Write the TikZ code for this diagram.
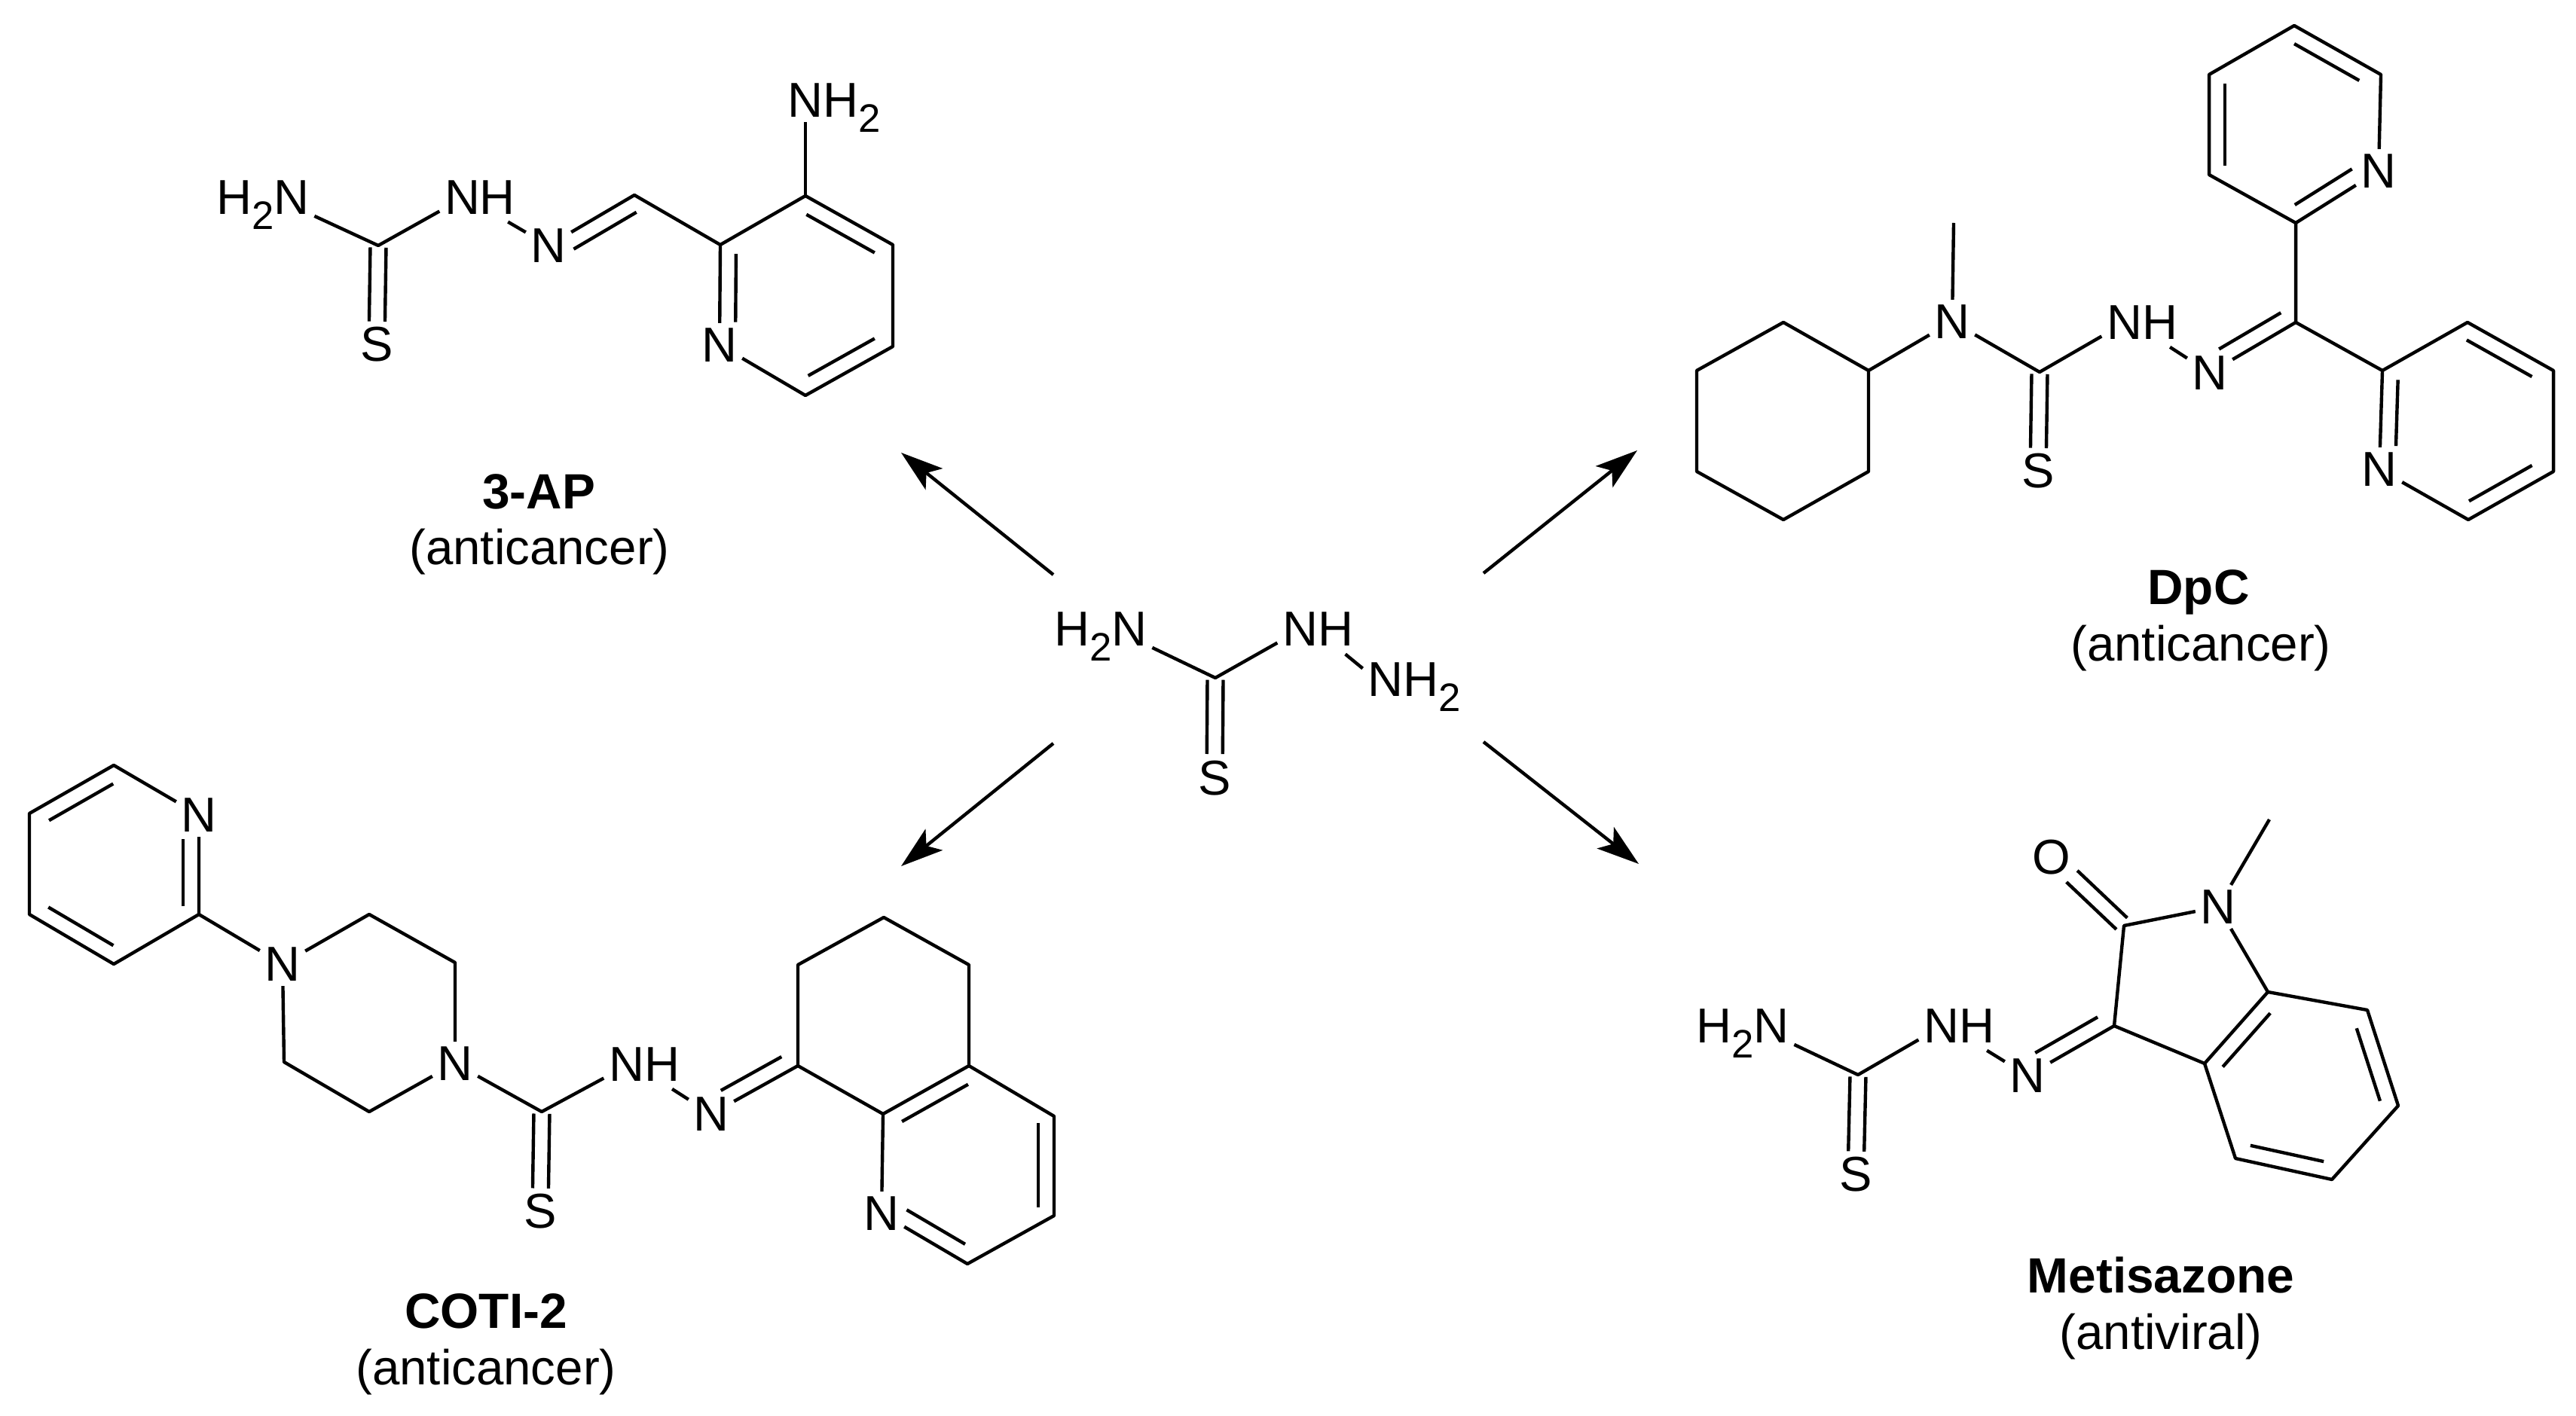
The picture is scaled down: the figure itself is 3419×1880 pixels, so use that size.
\documentclass[tikz,border=0pt]{standalone}
\usepackage{fontspec}
\setmainfont{Liberation Sans}
\usetikzlibrary{calc,arrows.meta}
\newcommand{\subb}{\raisebox{-5.8pt}[0pt][0pt]{\fontsize{15}{15}\selectfont 2}}
% inner line of a double bond, left / right of a->b, between fractions f1 and f2
\newcommand{\ibl}[4]{\draw[bond] ($(#1)!#3!(#2)!\dbloff!90:(#2)$) -- ($(#1)!#4!(#2)!\dbloff!90:(#2)$);}
\newcommand{\ibr}[4]{\draw[bond] ($(#1)!#3!(#2)!\dbloff!-90:(#2)$) -- ($(#1)!#4!(#2)!\dbloff!-90:(#2)$);}
\newcommand{\dbloff}{0.21cm}
\newcommand{\csdbl}[4]{\begingroup\renewcommand{\dbloff}{0.105cm}\ibl{#1}{#2}{#3}{#4}\ibr{#1}{#2}{#3}{#4}\endgroup}
\tikzset{
  bond/.style={line width=0.044cm,line join=round,line cap=butt,black},
  nnbond/.style={bond,shorten <=0.07cm},
  rxn/.style={line width=0.044cm,black,-{Stealth[length=0.56cm,width=0.36cm,inset=0.13cm]}},
  atom/.style={font=\fontsize{18.5}{20}\selectfont,inner sep=0.06cm,text=black},
  drugname/.style={font=\fontsize{18.7}{20}\selectfont\bfseries,inner sep=0pt,text=black},
  activity/.style={font=\fontsize{18.6}{20}\selectfont,inner sep=0pt,text=black}
}
\begin{document}
\begin{tikzpicture}[x=0.01cm,y=-0.01cm]
\useasboundingbox[fill=white] (0,0) rectangle (3419,1880);

% ---------- centre: thiosemicarbazide
\node[atom] (zh) at (1461,835) {H\subb N};
\node[atom] (znh) at (1749,835) {NH};
\node[atom] (zn) at (1877,902) {NH\subb};
\node[atom] (zs) at (1612,1033) {S};
\coordinate (zc) at (1613,900);
\draw[bond] (zh.-20) -- (zc) -- (znh.199);
\draw[nnbond] (znh.-43) -- (zn.168);
\csdbl{zc}{zs}{0.02}{0.76}

% ---------- arrows
\coordinate (ul0) at (1398,763); \coordinate (ul1) at (1196,601);
\coordinate (ur0) at (1969,761); \coordinate (ur1) at (2173,598);
\coordinate (ll0) at (1398,987); \coordinate (ll1) at (1196,1150);
\coordinate (lr0) at (1969,985); \coordinate (lr1) at (2175,1147);
\draw[rxn] (ul0) -- (ul1);
\draw[rxn] (ur0) -- (ur1);
\draw[rxn] (ll0) -- (ll1);
\draw[rxn] (lr0) -- (lr1);

% ---------- 3-AP
\node[atom] (ah) at (349,262) {H\subb N};
\node[atom] (anh) at (637,262) {NH};
\node[atom] (as) at (500,457) {S};
\node[atom] (an) at (728,326) {N};
\node[atom] (anr) at (955,458) {N};
\node[atom] (anh2) at (1107,133) {NH\subb};
\coordinate (ac) at (502,326);
\coordinate (ach) at (842,259);
\coordinate (a2) at (956,325);
\coordinate (a3) at (1069,260);
\coordinate (a4) at (1185,325);
\coordinate (a5) at (1185,460);
\coordinate (a6) at (1069,525);
\draw[bond] (ah.-20) -- (ac) -- (anh.199);
\draw[nnbond] (anh.-43) -- (an);
\draw[bond] (an) -- (ach) -- (a2) -- (a3) -- (a4) -- (a5) -- (a6) -- (anr) -- (a2);
\draw[bond] (a3) -- (a3 |- anh2.south);
\csdbl{ac}{as}{0.02}{0.77}
\ibr{an}{ach}{0.2}{0.93}
\ibl{a2}{anr}{0.09}{0.77}
\ibr{a3}{a4}{0.1}{0.88}
\ibr{a5}{a6}{0.12}{0.88}
\node[drugname] (at) at (715,653) {3-AP};
\node[activity] (aa) at (716,733) {(anticancer)};

% ---------- DpC
\node[atom] (dn) at (2591,427) {N};
\node[atom] (dnh) at (2843,428) {NH};
\node[atom] (ds) at (2705,625) {S};
\node[atom] (dni) at (2933,495) {N};
\node[atom] (dnt) at (3157,227) {N};
\node[atom] (dnb) at (3158,623) {N};
\coordinate (dme) at (2593,296);
\coordinate (dy1) at (2480,492);
\coordinate (dy2) at (2480,626);
\coordinate (dy3) at (2367,690);
\coordinate (dy4) at (2252,626);
\coordinate (dy5) at (2252,492);
\coordinate (dy6) at (2367,428);
\coordinate (dc) at (2707,494);
\coordinate (dcc) at (3047,428);
\coordinate (dt2) at (3047,296);
\coordinate (dt3) at (3160,99);
\coordinate (dt4) at (3045,34);
\coordinate (dt5) at (2932,99);
\coordinate (dt6) at (2932,232);
\coordinate (db2) at (3162,492);
\coordinate (db3) at (3276,690);
\coordinate (db4) at (3389,626);
\coordinate (db5) at (3389,492);
\coordinate (db6) at (3275,428);
\draw[bond] (dy1) -- (dy2) -- (dy3) -- (dy4) -- (dy5) -- (dy6) -- cycle;
\draw[bond] (dy1) -- (dn) -- (dme);
\draw[bond] (dn) -- (dc) -- (dnh.199);
\draw[nnbond] (dnh.-43) -- (dni);
\draw[bond] (dni) -- (dcc) -- (dt2);
\draw[bond] (dcc) -- (db2);
\draw[bond] (dt2) -- (dnt) -- (dt3) -- (dt4) -- (dt5) -- (dt6) -- (dt2);
\draw[bond] (db2) -- (dnb) -- (db3) -- (db4) -- (db5) -- (db6) -- (db2);
\csdbl{dc}{ds}{0.02}{0.77}
\ibl{dni}{dcc}{0.2}{0.92}
\ibl{dt2}{dnt}{0.09}{0.78}
\ibr{dt4}{dt3}{0.09}{0.84}
\ibl{dt5}{dt6}{0.09}{0.91}
\ibl{db2}{dnb}{0.09}{0.76}
\ibr{db6}{db5}{0.08}{0.84}
\ibr{db4}{db3}{0.16}{0.9}
\node[drugname] (dt) at (2918,786) {DpC};
\node[activity] (da) at (2921,861) {(anticancer)};

% ---------- COTI-2
\node[atom] (kn) at (264,1082) {N};
\node[atom] (kp1) at (375,1280) {N};
\node[atom] (kp2) at (604,1412) {N};
\node[atom] (ks) at (717,1608) {S};
\node[atom] (knh) at (855,1413) {NH};
\node[atom] (kni) at (944,1479) {N};
\node[atom] (knq) at (1170,1611) {N};
\coordinate (k1) at (151,1016);
\coordinate (k2) at (264,1214);
\coordinate (k3) at (151,1280);
\coordinate (k4) at (39,1214);
\coordinate (k5) at (39,1080);
\coordinate (kq1) at (490,1214);
\coordinate (kq2) at (604,1278);
\coordinate (kq3) at (490,1476);
\coordinate (kq4) at (377,1410);
\coordinate (kc) at (719,1476);
\coordinate (k8) at (1059,1415);
\coordinate (k7) at (1059,1281);
\coordinate (k6) at (1173,1218);
\coordinate (k55) at (1286,1281);
\coordinate (k4a) at (1286,1415);
\coordinate (k8a) at (1172,1479);
\coordinate (kr1) at (1399,1482);
\coordinate (kr2) at (1399,1614);
\coordinate (kr3) at (1284,1678);
\draw[bond] (kn) -- (k1) -- (k5) -- (k4) -- (k3) -- (k2) -- (kn);
\draw[bond] (k2) -- (kp1) -- (kq1) -- (kq2) -- (kp2) -- (kq3) -- (kq4) -- (kp1);
\draw[bond] (kp2) -- (kc) -- (knh.199);
\draw[nnbond] (knh.-43) -- (kni);
\draw[bond] (kni) -- (k8) -- (k7) -- (k6) -- (k55) -- (k4a) -- (k8a) -- (k8);
\draw[bond] (k8a) -- (knq) -- (kr3) -- (kr2) -- (kr1) -- (k4a);
\csdbl{kc}{ks}{0.02}{0.77}
\ibl{k2}{kn}{0.08}{0.76}
\ibr{k5}{k1}{0.14}{0.9}
\ibl{k4}{k3}{0.13}{0.9}
\ibl{kni}{k8}{0.2}{0.9}
\ibr{k8a}{k4a}{0.13}{0.9}
\ibr{kr1}{kr2}{0.07}{0.92}
\ibr{kr3}{knq}{0.12}{0.8}
\node[drugname] (kt) at (645,1741) {COTI-2};
\node[activity] (ka) at (645,1822) {(anticancer)};

% ---------- Metisazone
\node[atom] (mh) at (2313,1362) {H\subb N};
\node[atom] (mnh) at (2600,1362) {NH};
\node[atom] (ms) at (2463,1559) {S};
\node[atom] (mni) at (2691,1428) {N};
\node[atom] (mo) at (2723,1138) {O};
\node[atom] (mn) at (2944,1204) {N};
\coordinate (mc) at (2466,1427);
\coordinate (mc3) at (2806,1362);
\coordinate (mc2) at (2819,1229);
\coordinate (mme) at (3012,1088);
\coordinate (m7a) at (3010,1317);
\coordinate (m3a) at (2926,1412);
\coordinate (m7) at (3142,1341);
\coordinate (m6) at (3183,1468);
\coordinate (m5) at (3095,1566);
\coordinate (m4) at (2967,1538);
\draw[bond] (mh.-20) -- (mc) -- (mnh.199);
\draw[nnbond] (mnh.-43) -- (mni);
\draw[bond] (mni) -- (mc3) -- (mc2) -- (mn) -- (m7a) -- (m3a) -- (mc3);
\draw[bond] (mn) -- (mme);
\draw[bond] (m7a) -- (m7) -- (m6) -- (m5) -- (m4) -- (m3a);
\csdbl{mc}{ms}{0.02}{0.77}
\csdbl{mo}{mc2}{0.28}{0.97}
\ibl{mni}{mc3}{0.18}{0.9}
\ibr{m3a}{m7a}{0.1}{0.85}
\ibr{m7}{m6}{0.14}{0.9}
\ibr{m5}{m4}{0.12}{0.88}
\node[drugname] (mt) at (2868,1693) {Metisazone};
\node[activity] (ma) at (2868,1775) {(antiviral)};
\end{tikzpicture}
\end{document}
